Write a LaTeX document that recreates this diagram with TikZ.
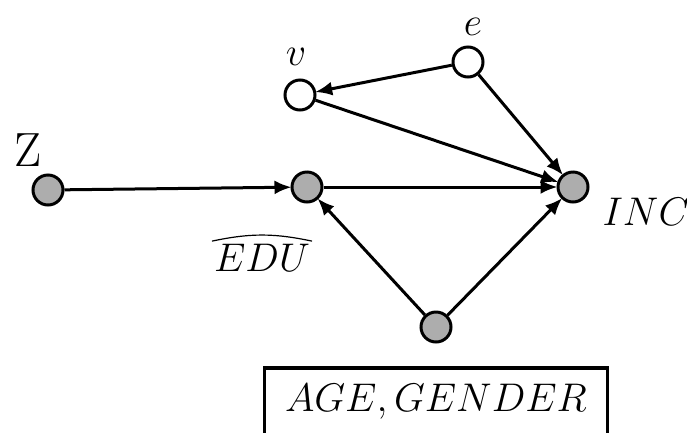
\documentclass[tikz,border=0pt]{standalone}
\usepackage{fix-cm}
\usetikzlibrary{arrows.meta,positioning}
\usepackage{amsmath}

\begin{document}
\begin{tikzpicture}[x=1pt,y=-1pt,
  every node/.style={font=\fontsize{40}{48}\selectfont},
  obs/.style={circle,draw=black,line width=3pt,fill=black!32,minimum size=30pt,inner sep=0pt},
  lat/.style={obs,fill=white},
  lbl/.style={inner sep=0pt},
  gbox/.style={draw=black,line width=3.2pt,minimum width=343pt,minimum height=68pt},
  ar/.style={-{Latex[length=17pt,width=14pt]},line width=3pt,shorten >=-1pt}]
\useasboundingbox (0,0) rectangle (687,432);
\node[obs] (z) at (48,190) {};
\node[obs] (edu) at (307,187) {};
\node[obs] (inc) at (573,187) {};
\node[lat] (v) at (300,95) {};
\node[lat] (e) at (468,62) {};
\node[obs] (ag) at (436,327) {};
\node[lbl,font=\fontsize{48}{56}\selectfont] (zl) at (28,150) {Z};
\node[lbl] (vl) at (296,57) {$v$};
\node[lbl] (el) at (473,27) {$e$};
\node[lbl] (edul) at (262,258) {$EDU$};
\draw[line width=1.2pt] ([xshift=-2pt,yshift=3pt]edul.north west) to[bend left=12] ([xshift=2pt,yshift=3pt]edul.north east);
\node[lbl] (incl) at (646,212) {$INC$};
\node[gbox] (box) at (436,402) {$AGE, GENDER$};
\foreach \a/\b in {z/edu,edu/inc,v/inc,e/v,e/inc,ag/edu,ag/inc} \draw[ar] (\a) -- (\b);
\end{tikzpicture}
\end{document}
